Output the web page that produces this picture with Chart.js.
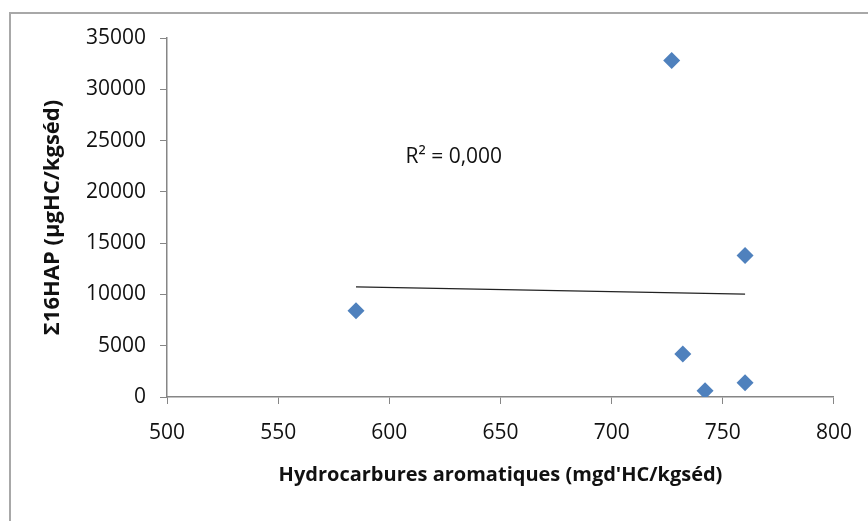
<!DOCTYPE html>
<html>
<head>
<meta charset="utf-8">
<script src="https://cdn.jsdelivr.net/npm/chart.js@4.4.1/dist/chart.umd.min.js"></script>
<style>
  html, body { margin: 0; padding: 0; background: #fff; }
  #wrap { width: 868px; height: 521px; position: relative; }
</style>
</head>
<body>
<div id="wrap"><canvas id="hapChart"></canvas></div>
<script>
// Hydrocarbures aromatiques vs somme des 16 HAP
var hcArom = [585, 727, 760, 732, 742, 760];
var sumHap = [8400, 32800, 13800, 4200, 600, 1400];
var xTicks = [500, 550, 600, 650, 700, 750, 800];
var yTicks = [0, 5000, 10000, 15000, 20000, 25000, 30000, 35000];
var r2Label = "R² = 0,000";

// points
var points = hcArom.map(function (x, i) { return { x: x, y: sumHap[i] }; });

// linear trend (least squares) over the x range of the points
var n = hcArom.length;
var mx = hcArom.reduce(function (a, b) { return a + b; }, 0) / n;
var my = sumHap.reduce(function (a, b) { return a + b; }, 0) / n;
var sxy = 0, sxx = 0;
for (var i = 0; i < n; i++) {
  sxy += (hcArom[i] - mx) * (sumHap[i] - my);
  sxx += (hcArom[i] - mx) * (hcArom[i] - mx);
}
var slope = sxy / sxx;
var xMin = Math.min.apply(null, hcArom), xMax = Math.max.apply(null, hcArom);
var trend = [
  { x: xMin, y: my + slope * (xMin - mx) },
  { x: xMax, y: my + slope * (xMax - mx) }
];

var axisGrey = '#868686';
var tickFont = { family: "'Open Sans'", size: 21 };

// outer frame + R² text
var framePlugin = {
  id: 'frame',
  beforeDraw: function (chart) {
    var c = chart.ctx;
    c.save();
    c.fillStyle = '#fff';
    c.fillRect(0, 0, chart.width, chart.height);
    c.strokeStyle = '#a8a8a8';
    c.lineWidth = 2;
    c.strokeRect(10, 13, chart.width + 20, chart.height + 20);
    c.restore();
  },
  afterDatasetsDraw: function (chart) {
    var c = chart.ctx;
    var xs = chart.scales.x, ys = chart.scales.y;
    c.save();
    c.font = "21px 'Open Sans'";
    c.fillStyle = '#111';
    c.textAlign = 'center';
    c.textBaseline = 'middle';
    c.fillText(r2Label, xs.getPixelForValue(629), ys.getPixelForValue(23400));
    c.restore();
  }
};

var ctx = document.getElementById('hapChart');

var config = {
  type: 'scatter',
  data: {
    datasets: [{
      label: 'Σ16HAP',
      data: points,
      pointStyle: 'rectRot',
      pointRadius: 8.5,
      pointBackgroundColor: '#4F81BD',
      pointBorderColor: '#4F81BD',
      pointBorderWidth: 0,
      showLine: false
    }, {
      label: 'Linéaire',
      data: trend,
      showLine: true,
      pointRadius: 0,
      borderColor: '#222',
      borderWidth: 1.4
    }]
  },
  options: {
    responsive: true,
    maintainAspectRatio: false,
    animation: false,
    layout: { padding: { top: 38, right: 33, left: 0, bottom: 0 } },
    plugins: {
      legend: { display: false },
      tooltip: { enabled: false }
    },
    scales: {
      x: {
        type: 'linear',
        min: 500,
        max: 800,
        afterBuildTicks: function (scale) {
          scale.ticks = xTicks.map(function (v) { return { value: v }; });
        },
        afterFit: function (scale) { scale.height = 124; },
        ticks: { color: '#111', font: tickFont, padding: 16, maxRotation: 0 },
        grid: { drawOnChartArea: false, color: axisGrey, tickLength: 7 },
        border: { color: axisGrey, width: 1.5 },
        title: {
          display: true,
          text: "Hydrocarbures aromatiques (mgd'HC/kgséd)",
          color: '#111',
          font: { family: "'Open Sans'", size: 20, weight: 'bold' },
          padding: { top: 0, bottom: 34 }
        }
      },
      y: {
        type: 'linear',
        min: 0,
        max: 35000,
        afterBuildTicks: function (scale) {
          scale.ticks = yTicks.map(function (v) { return { value: v }; });
        },
        afterFit: function (scale) { scale.width = 167; },
        ticks: {
          color: '#111',
          font: tickFont,
          padding: 14,
          callback: function (v) { return String(v); }
        },
        grid: { drawOnChartArea: false, color: axisGrey, tickLength: 7 },
        border: { color: axisGrey, width: 1.5 },
        title: {
          display: true,
          text: 'Σ16HAP (µgHC/kgséd)',
          color: '#111',
          font: { family: "'Open Sans'", size: 22, weight: 'bold' },
          padding: { top: 40, bottom: 0 }
        }
      }
    }
  },
  plugins: [framePlugin]
};

var hapChart = new Chart(ctx, config);
</script>
</body>
</html>
